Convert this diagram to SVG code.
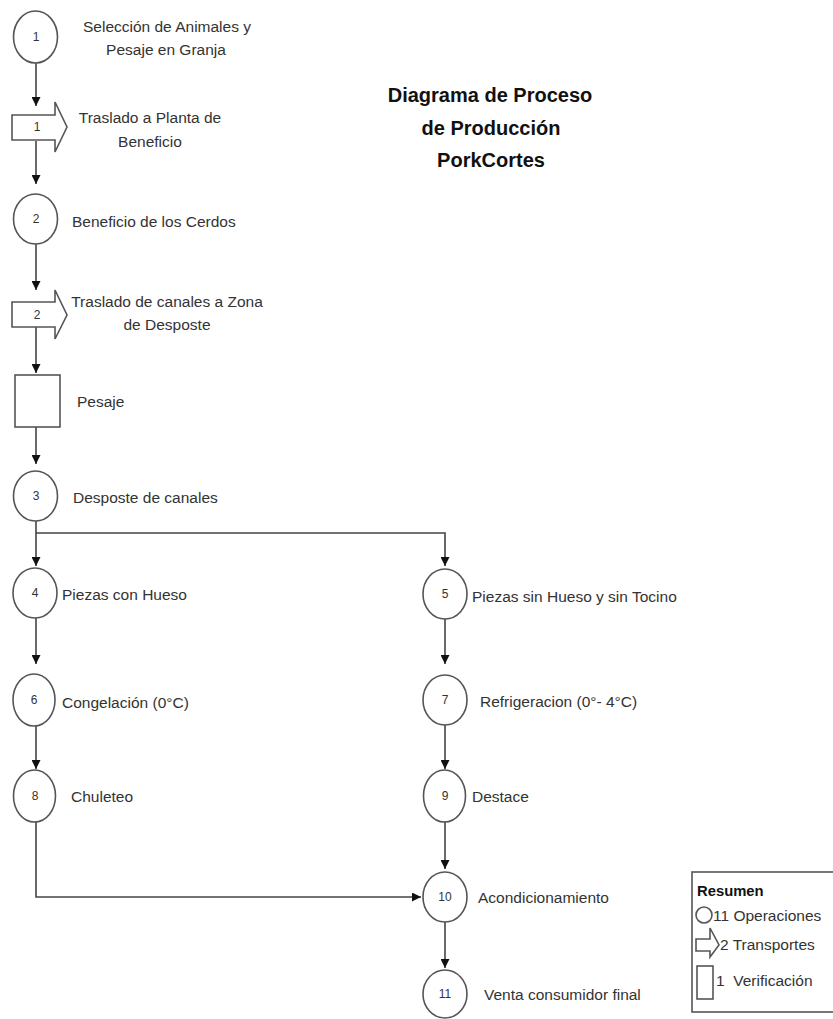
<svg xmlns="http://www.w3.org/2000/svg" width="833" height="1019" viewBox="0 0 833 1019">
<style>
.sh{fill:#fff;stroke:#555;stroke-width:1.6}
.ln{fill:none;stroke:#444;stroke-width:1.6}
.t{font-family:"Liberation Sans",Arial,sans-serif;font-size:15.5px;fill:#333}
.lg{font-size:15.5px}
.n{font-family:"Liberation Sans",Arial,sans-serif;font-size:12px;fill:#333;text-anchor:middle}
.ti{font-family:"Liberation Sans",Arial,sans-serif;font-size:20px;font-weight:bold;fill:#111;text-anchor:middle}
.c{text-anchor:middle}
</style>
<defs>
<marker id="ah" viewBox="0 0 10 10" refX="10" refY="5" markerWidth="9" markerHeight="9" markerUnits="userSpaceOnUse" orient="auto">
<path d="M0,0 L10,5 L0,10 Z" fill="#111"/>
</marker>
</defs>
<rect width="833" height="1019" fill="#fff"/>
<g id="title">
<text class="ti" x="490" y="102">Diagrama de Proceso</text>
<text class="ti" x="491" y="135">de Producción</text>
<text class="ti" x="491" y="167">PorkCortes</text>
</g>
<g id="connectors">
<line class="ln" x1="36" y1="62" x2="36" y2="106" marker-end="url(#ah)"/>
<line class="ln" x1="36" y1="141" x2="36" y2="184" marker-end="url(#ah)"/>
<line class="ln" x1="36" y1="244" x2="36" y2="290" marker-end="url(#ah)"/>
<line class="ln" x1="36" y1="327" x2="36" y2="373" marker-end="url(#ah)"/>
<line class="ln" x1="36" y1="427" x2="36" y2="464" marker-end="url(#ah)"/>
<line class="ln" x1="36" y1="521" x2="36" y2="566" marker-end="url(#ah)"/>
<polyline class="ln" points="36,533 445,533 445,566" marker-end="url(#ah)"/>
<line class="ln" x1="36" y1="618" x2="36" y2="664" marker-end="url(#ah)"/>
<line class="ln" x1="445" y1="619" x2="445" y2="664" marker-end="url(#ah)"/>
<line class="ln" x1="36" y1="725" x2="36" y2="769" marker-end="url(#ah)"/>
<line class="ln" x1="445" y1="725" x2="445" y2="769" marker-end="url(#ah)"/>
<line class="ln" x1="445" y1="821" x2="445" y2="869" marker-end="url(#ah)"/>
<polyline class="ln" points="36,821 36,897 421,897" marker-end="url(#ah)"/>
<line class="ln" x1="445" y1="922" x2="445" y2="968" marker-end="url(#ah)"/>
</g>
<g id="op1">
<ellipse class="sh" cx="35.5" cy="37" rx="22" ry="26"/>
<text class="n" x="36" y="41">1</text>
<text class="t c" x="167" y="32">Selección de Animales y</text>
<text class="t c" x="166" y="55">Pesaje en Granja</text>
</g>
<g id="tr1">
<path class="sh" d="M12,115 H55 V102 L67,127 L55,152 V140 H12 Z"/>
<text class="n" x="37" y="131">1</text>
<text class="t c" x="150" y="123">Traslado a Planta de</text>
<text class="t c" x="150" y="147">Beneficio</text>
</g>
<g id="op2">
<ellipse class="sh" cx="35.5" cy="219" rx="22" ry="25"/>
<text class="n" x="36" y="223">2</text>
<text class="t" x="72" y="227">Beneficio de los Cerdos</text>
</g>
<g id="tr2">
<path class="sh" d="M12,302 H55 V290 L67,315 L55,339 V327 H12 Z"/>
<text class="n" x="37" y="319">2</text>
<text class="t c" x="167" y="307">Traslado de canales a Zona</text>
<text class="t c" x="167" y="330">de Desposte</text>
</g>
<g id="ver1">
<rect class="sh" x="15" y="375" width="45" height="52"/>
<text class="t" x="77" y="407">Pesaje</text>
</g>
<g id="op3">
<ellipse class="sh" cx="35.5" cy="496" rx="22" ry="25"/>
<text class="n" x="36" y="500">3</text>
<text class="t" x="73" y="503">Desposte de canales</text>
</g>
<g id="op4">
<ellipse class="sh" cx="35" cy="593" rx="22" ry="25"/>
<text class="n" x="35" y="597">4</text>
<text class="t" x="62" y="600">Piezas con Hueso</text>
</g>
<g id="op5">
<ellipse class="sh" cx="445" cy="594" rx="22" ry="25"/>
<text class="n" x="445" y="598">5</text>
<text class="t" x="472" y="602">Piezas sin Hueso y sin Tocino</text>
</g>
<g id="op6">
<ellipse class="sh" cx="34" cy="700" rx="21" ry="26"/>
<text class="n" x="34" y="704">6</text>
<text class="t" x="62" y="708">Congelación (0°C)</text>
</g>
<g id="op7">
<ellipse class="sh" cx="445" cy="700" rx="22" ry="25"/>
<text class="n" x="445" y="704">7</text>
<text class="t" x="480" y="707">Refrigeracion (0°- 4°C)</text>
</g>
<g id="op8">
<ellipse class="sh" cx="34.5" cy="796" rx="21" ry="26"/>
<text class="n" x="35" y="800">8</text>
<text class="t" x="71" y="802">Chuleteo</text>
</g>
<g id="op9">
<ellipse class="sh" cx="444.5" cy="796" rx="21" ry="26"/>
<text class="n" x="445" y="800">9</text>
<text class="t" x="472" y="802">Destace</text>
</g>
<g id="op10">
<ellipse class="sh" cx="445" cy="897" rx="22" ry="25"/>
<text class="n" x="445" y="901">10</text>
<text class="t" x="478" y="903">Acondicionamiento</text>
</g>
<g id="op11">
<ellipse class="sh" cx="445" cy="994" rx="22" ry="24"/>
<text class="n" x="445" y="998">11</text>
<text class="t" x="484" y="1000">Venta consumidor final</text>
</g>
<g id="legend">
<rect class="sh" x="692" y="872" width="150" height="140"/>
<text class="t" x="697" y="896" style="font-weight:bold;font-size:14.8px;fill:#111">Resumen</text>
<circle class="sh" cx="704" cy="915" r="8"/>
<text class="t lg" x="713" y="921">11 Operaciones</text>
<path class="sh" d="M696,939 H710 V928 L719,945 L710,957 V951 H696 Z"/>
<text class="t lg" x="720" y="950">2 Transportes</text>
<rect class="sh" x="697" y="966" width="16" height="33"/>
<text class="t lg" x="716" y="986">1&#160; Verificación</text>
</g>
</svg>
